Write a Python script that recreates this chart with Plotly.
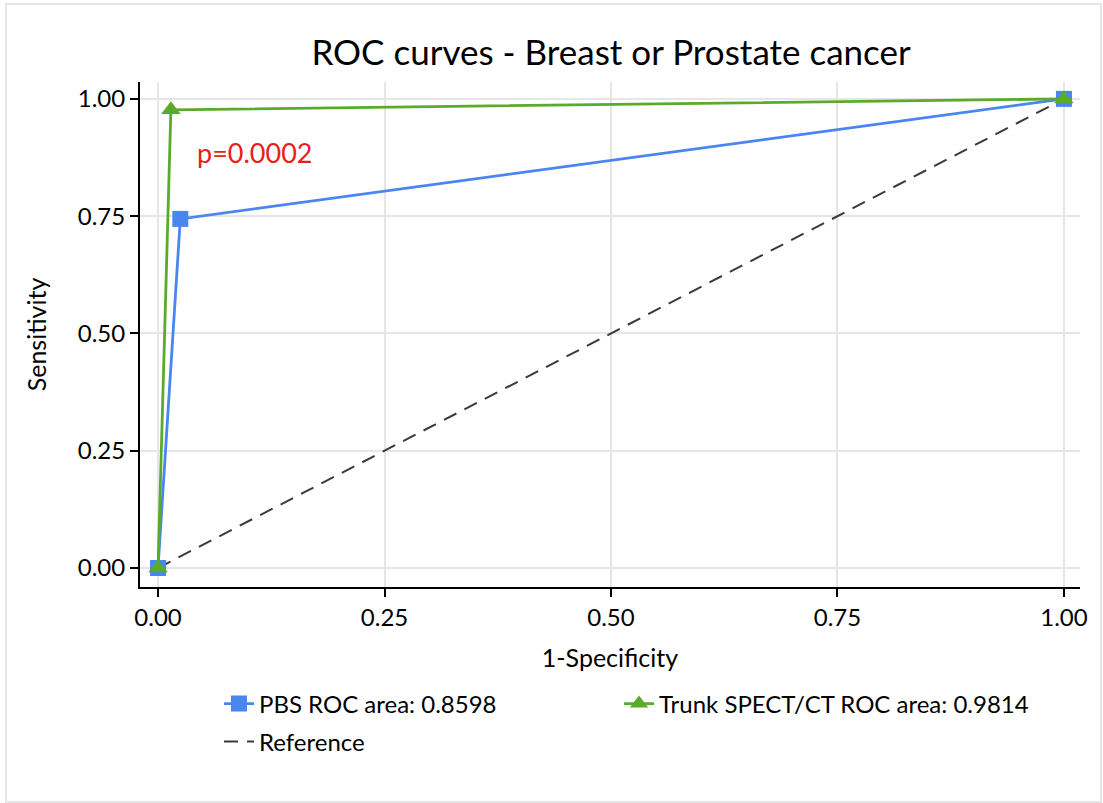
import plotly.graph_objects as go

# ---- data ----
pbs_x = [0.0, 0.0246, 1.0]
pbs_y = [0.0, 0.7442, 1.0]
trunk_x = [0.0, 0.0142, 1.0]
trunk_y = [0.0, 0.9767, 1.0]
ref_x = [0.0, 1.0]
ref_y = [0.0, 1.0]
tick_vals = [0.0, 0.25, 0.5, 0.75, 1.0]
tick_text = ["0.00", "0.25", "0.50", "0.75", "1.00"]
pbs_name = "PBS ROC area: 0.8598"
trunk_name = "Trunk SPECT/CT ROC area: 0.9814"
ref_name = "Reference"
p_text = "p=0.0002"
title_text = "ROC curves - Breast or Prostate cancer"

FONT = "Lato"
W, H = 1103, 803
ML, MR, MT, MB = 140, 23, 82, 216
PW = W - ML - MR
PH = H - MT - MB


def px_to_paper_x(px):
    return (px - ML) / PW


def px_to_paper_y(py):
    return (H - MB - py) / PH


fig = go.Figure()
fig.add_trace(go.Scatter(
    x=ref_x, y=ref_y, mode="lines", name=ref_name, legend="legend3",
    line=dict(color="#3a3a3a", width=2, dash="14px,9px"),
))
fig.add_trace(go.Scatter(
    x=pbs_x, y=pbs_y, mode="lines+markers", name=pbs_name, legend="legend",
    line=dict(color="#4a86f0", width=2.8),
    marker=dict(symbol="square", size=16, color="#4a86f0"),
))
fig.add_trace(go.Scatter(
    x=trunk_x, y=trunk_y, mode="lines+markers", name=trunk_name, legend="legend2",
    line=dict(color="#5aab2c", width=2.8),
    marker=dict(symbol="triangle-up", size=17, color="#5aab2c"),
))

fig.add_annotation(
    x=0.041, y=0.885, xref="x", yref="y", text=p_text, showarrow=False,
    xanchor="left", yanchor="middle", font=dict(family=FONT, size=27, color="#e8201a"),
)

# outer light border
fig.add_shape(
    type="rect", xref="paper", yref="paper",
    x0=px_to_paper_x(6), x1=px_to_paper_x(1101),
    y0=px_to_paper_y(802), y1=px_to_paper_y(4),
    line=dict(color="#e6e6e6", width=2), fillcolor="rgba(0,0,0,0)", layer="below",
)

axis_common = dict(
    showline=True, linecolor="black", linewidth=2, mirror=False,
    ticks="outside", ticklen=8, tickwidth=2, tickcolor="black",
    showgrid=True, gridcolor="#e6e6e6", gridwidth=1.5, zeroline=False,
    tickvals=tick_vals, ticktext=tick_text,
    tickfont=dict(family=FONT, size=24, color="black"),
)

leg_common = dict(
    orientation="h", xanchor="left", yanchor="middle",
    xref="paper", yref="paper",
    font=dict(family=FONT, size=24, color="black"),
    bgcolor="rgba(0,0,0,0)", borderwidth=0,
)

fig.update_layout(
    width=W, height=H,
    margin=dict(l=ML, r=MR, t=MT, b=MB, autoexpand=False),
    paper_bgcolor="white", plot_bgcolor="white",
    title=dict(text=title_text, x=0.554, xanchor="center", y=0.934, yanchor="middle",
               font=dict(family=FONT, size=35, color="black")),
    xaxis=dict(axis_common, range=[-0.0199, 1.0177],
               title=dict(text="1-Specificity", font=dict(family=FONT, size=25, color="black"), standoff=20)),
    yaxis=dict(axis_common, range=[-0.0405, 1.036],
               title=dict(text="Sensitivity", font=dict(family=FONT, size=25, color="black"), standoff=24)),
    legend=dict(leg_common, x=px_to_paper_x(219), y=px_to_paper_y(704)),
    legend2=dict(leg_common, x=px_to_paper_x(619), y=px_to_paper_y(704)),
    legend3=dict(leg_common, x=px_to_paper_x(219), y=px_to_paper_y(742)),
    showlegend=True,
)

fig.write_html("out.html", config={"displayModeBar": False},
               post_script="document.body.style.margin='0px';")
